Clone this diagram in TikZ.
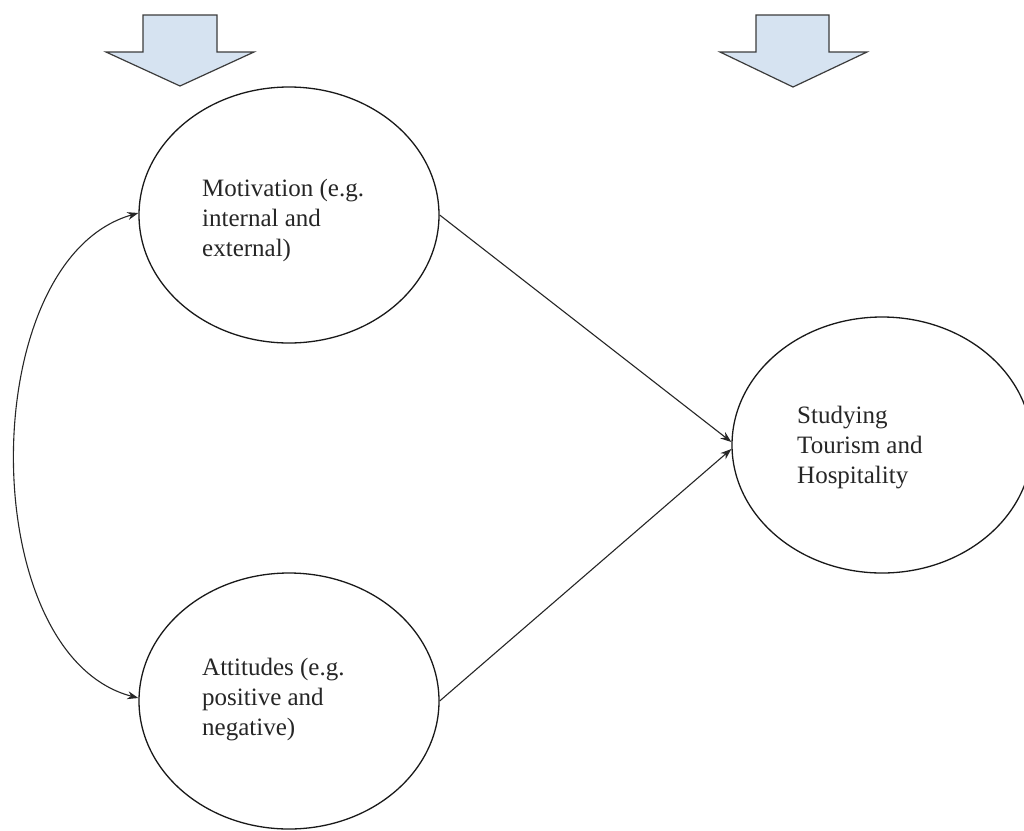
\documentclass[tikz,border=0pt]{standalone}
\usepackage{fontspec}
\setmainfont{Liberation Serif}
\usetikzlibrary{arrows.meta,shapes.geometric}
\definecolor{blockfill}{RGB}{214,227,241}
\definecolor{blockline}{RGB}{60,60,60}
\begin{document}
\begin{tikzpicture}[x=1pt,y=-1pt,
  oval/.style={draw=black!90, line width=1.3pt, ellipse, minimum width=300pt, minimum height=256pt, inner sep=0pt},
  ovaltext/.style={anchor=west, align=left, inner sep=0pt, font=\fontsize{25}{30}\selectfont, text=black!85},
  link/.style={draw=black!85, line width=1.1pt, -{Stealth[length=11pt,width=8pt]}},
  blockarrow/.style={fill=blockfill, draw=blockline, line width=1.2pt, line join=miter}
]
\useasboundingbox (0,0) rectangle (1024,830);
\fill[white] (0,0) rectangle (1024,830);

% block arrows
\draw[blockarrow] (143,15) -- (217,15) -- (217,52) -- (254,52) -- (180,86) -- (106,52) -- (143,52) -- cycle;
\draw[blockarrow] (756,15) -- (829,15) -- (829,52) -- (867,52) -- (793,87) -- (720,52) -- (756,52) -- cycle;

% ellipses
\node[oval] (mot) at (289,215) {};
\node[oval] (att) at (289,701) {};
\node[oval] (stu) at (882,445) {};

% texts
\node[ovaltext] (mottext) at (202,220) {Motivation (e.g.\\internal and\\external)};
\node[ovaltext] (atttext) at (202,700) {Attitudes (e.g.\\positive and\\negative)};
\node[ovaltext] (stutext) at (797,448) {Studying\\Tourism and\\Hospitality};

% connectors
\draw[link] (mot.east) -- ([yshift=3pt]stu.west);
\draw[link] (att.east) -- ([yshift=-4pt]stu.west);
\draw[link, {Stealth[length=11pt,width=8pt]}-{Stealth[length=11pt,width=8pt]}] ([yshift=2pt]mot.west) .. controls (-26,260) and (-26,655) .. ([yshift=3pt]att.west);
\end{tikzpicture}
\end{document}
